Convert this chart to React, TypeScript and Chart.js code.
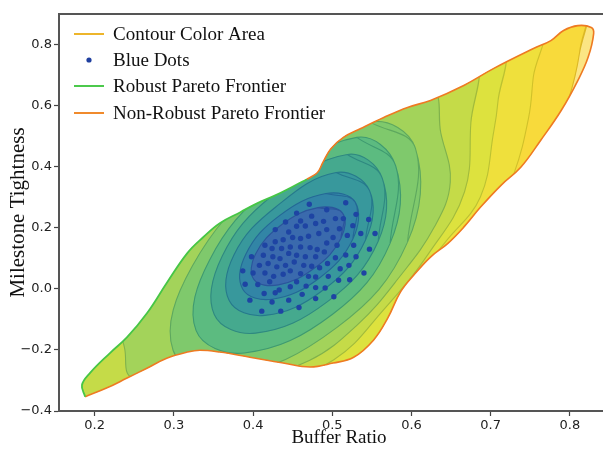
import React, { useEffect, useRef } from 'react';
import { Chart, registerables } from 'chart.js';

// ---------------- data ----------------
const xTicks = [0.2, 0.3, 0.4, 0.5, 0.6, 0.7, 0.8];
const yTicks = [-0.4, -0.2, 0.0, 0.2, 0.4, 0.6, 0.8];

// Robust Pareto frontier (green, left / upper-left edge), from the lower-left tip upward
const robustX = [0.188, 0.184, 0.194, 0.219, 0.241, 0.266, 0.291, 0.317, 0.337, 0.358, 0.384, 0.405, 0.428, 0.451, 0.468];
const robustY = [-0.353, -0.315, -0.276, -0.211, -0.158, -0.080, 0.019, 0.117, 0.169, 0.215, 0.251, 0.280, 0.306, 0.336, 0.359];

// Non-robust Pareto frontier (orange, upper edge, upper-right tip, right and bottom edge)
const nonRobustX = [0.468, 0.481, 0.488, 0.498, 0.514, 0.536, 0.565, 0.595, 0.624, 0.666, 0.704, 0.754, 0.776, 0.792, 0.810, 0.827, 0.830,
  0.823, 0.810, 0.789, 0.763, 0.738, 0.713, 0.687, 0.666, 0.646, 0.624, 0.603, 0.586, 0.570, 0.552, 0.527, 0.501, 0.472, 0.438, 0.396,
  0.358, 0.333, 0.317, 0.291, 0.266, 0.241, 0.215, 0.188];
const nonRobustY = [0.359, 0.380, 0.413, 0.458, 0.496, 0.525, 0.561, 0.594, 0.617, 0.666, 0.722, 0.787, 0.813, 0.846, 0.862, 0.856, 0.836,
  0.758, 0.682, 0.584, 0.486, 0.398, 0.339, 0.267, 0.202, 0.149, 0.104, 0.045, -0.011, -0.096, -0.168, -0.224, -0.243, -0.256, -0.243, -0.224,
  -0.207, -0.201, -0.207, -0.227, -0.260, -0.292, -0.325, -0.353];

// Blue dots
const dotX = [0.517, 0.471, 0.493, 0.455, 0.530, 0.474, 0.504, 0.441, 0.489, 0.514, 0.546, 0.460, 0.428, 0.445, 0.455, 0.466, 0.479, 0.493,
  0.509, 0.526, 0.536, 0.554, 0.415, 0.428, 0.438, 0.450, 0.460, 0.470, 0.483, 0.501, 0.519, 0.436, 0.424, 0.447, 0.460, 0.472, 0.481,
  0.493, 0.506, 0.527, 0.547, 0.398, 0.413, 0.425, 0.434, 0.445, 0.455, 0.466, 0.479, 0.490, 0.504, 0.517, 0.530, 0.408, 0.419, 0.430,
  0.441, 0.452, 0.464, 0.474, 0.484, 0.494, 0.510, 0.521, 0.387, 0.400, 0.415, 0.426, 0.438, 0.447, 0.460, 0.470, 0.479, 0.495, 0.508,
  0.522, 0.540, 0.390, 0.406, 0.421, 0.433, 0.447, 0.455, 0.467, 0.479, 0.491, 0.414, 0.428, 0.445, 0.462, 0.479, 0.502, 0.396, 0.424,
  0.411, 0.435, 0.458];
const dotY = [0.282, 0.277, 0.259, 0.248, 0.244, 0.238, 0.230, 0.219, 0.221, 0.230, 0.227, 0.222, 0.194, 0.186, 0.205, 0.206, 0.214, 0.194,
  0.197, 0.207, 0.181, 0.181, 0.143, 0.154, 0.161, 0.168, 0.165, 0.172, 0.181, 0.168, 0.175, 0.132, 0.132, 0.137, 0.137, 0.135, 0.129,
  0.150, 0.143, 0.143, 0.130, 0.105, 0.110, 0.105, 0.099, 0.116, 0.110, 0.105, 0.105, 0.121, 0.102, 0.111, 0.105, 0.077, 0.083, 0.072,
  0.077, 0.088, 0.077, 0.074, 0.069, 0.083, 0.066, 0.077, 0.059, 0.052, 0.052, 0.041, 0.048, 0.059, 0.050, 0.041, 0.039, 0.041, 0.028,
  0.030, 0.052, 0.015, 0.014, 0.023, -0.004, 0.007, 0.023, 0.009, 0.004, 0.003, -0.015, -0.013, -0.037, -0.018, -0.032, -0.026, -0.037, -0.043,
  -0.073, -0.073, -0.061];

// Contour levels (closed outlines, outermost level 1 to innermost level 11)
const level1X = [0.817, 0.812, 0.798, 0.772, 0.733, 0.632, 0.478, 0.222, 0.032, -0.003, 0.128, 0.302, 0.472, 0.661];
const level1Y = [0.943, 0.770, 0.618, 0.446, 0.226, -0.135, -0.476, -0.687, -0.688, -0.348, 0.072, 0.453, 0.742, 0.906];
const level2X = [0.763, 0.754, 0.748, 0.729, 0.701, 0.613, 0.479, 0.247, 0.093, 0.073, 0.163, 0.318, 0.467, 0.629];
const level2Y = [0.858, 0.697, 0.562, 0.375, 0.226, -0.069, -0.371, -0.555, -0.569, -0.282, 0.059, 0.400, 0.650, 0.801];
const level3X = [0.713, 0.709, 0.704, 0.687, 0.643, 0.594, 0.552, 0.440, 0.266, 0.134, 0.118, 0.189, 0.319, 0.454, 0.598];
const level3Y = [0.782, 0.609, 0.517, 0.301, 0.154, -0.004, -0.187, -0.345, -0.457, -0.491, -0.275, 0.027, 0.341, 0.584, 0.742];
const level4X = [0.679, 0.675, 0.667, 0.622, 0.565, 0.502, 0.404, 0.275, 0.160, 0.151, 0.220, 0.330, 0.455, 0.576];
const level4Y = [0.736, 0.544, 0.318, 0.117, -0.068, -0.232, -0.332, -0.379, -0.419, -0.252, 0.027, 0.302, 0.525, 0.657];
const level5X = [0.625, 0.637, 0.649, 0.629, 0.583, 0.532, 0.471, 0.405, 0.325, 0.247, 0.238, 0.233, 0.276, 0.350, 0.435, 0.525];
const level5Y = [0.651, 0.511, 0.350, 0.203, 0.033, -0.117, -0.235, -0.281, -0.303, -0.291, -0.197, -0.100, 0.107, 0.291, 0.433, 0.559];
const level6X = [0.605, 0.595, 0.506, 0.370, 0.299, 0.323, 0.420, 0.548];
const level6Y = [0.460, 0.153, -0.126, -0.284, -0.201, 0.073, 0.363, 0.546];
const level7X = [0.580, 0.573, 0.500, 0.389, 0.328, 0.345, 0.422, 0.531];
const level7Y = [0.403, 0.149, -0.084, -0.210, -0.136, 0.094, 0.334, 0.496];
const level8X = [0.563, 0.558, 0.494, 0.403, 0.351, 0.361, 0.424, 0.519];
const level8Y = [0.363, 0.156, -0.042, -0.145, -0.084, 0.107, 0.305, 0.440];
const level9X = [0.547, 0.542, 0.489, 0.415, 0.370, 0.376, 0.429, 0.505];
const level9Y = [0.322, 0.160, -0.003, -0.087, -0.039, 0.112, 0.269, 0.381];
const level10X = [0.529, 0.526, 0.483, 0.424, 0.387, 0.391, 0.433, 0.492];
const level10Y = [0.284, 0.163, 0.034, -0.034, -0.001, 0.114, 0.239, 0.312];
const level11X = [0.513, 0.511, 0.478, 0.432, 0.401, 0.403, 0.436, 0.482];
const level11Y = [0.248, 0.166, 0.069, 0.013, 0.031, 0.113, 0.210, 0.266];

const levelsX = [level1X, level2X, level3X, level4X, level5X, level6X, level7X, level8X, level9X, level10X, level11X];
const levelsY = [level1Y, level2Y, level3Y, level4Y, level5Y, level6Y, level7Y, level8Y, level9Y, level10Y, level11Y];

const outerFill = '#fbe584';
const levelFill = ['#f8da3b', '#efe03c', '#dde23e', '#c5db48', '#a3d35a', '#7fc96c', '#5cbb80', '#45a98e', '#38989c', '#3285a6', '#3a6aad'];
const levelLine = ['#dcb826', '#d0c12a', '#bcc232', '#a2bb3c', '#80b24c', '#5ea85e', '#3f9a70', '#2f8980', '#26798c', '#246896', '#2b559b'];

const legendLabels = ['Contour Color Area', 'Blue Dots', 'Robust Pareto Frontier', 'Non-Robust Pareto Frontier'];
const legendColors = ['#edb52b', '#1f3f9f', '#4cc94c', '#f08a2c'];

// ---------------- helpers ----------------
const toPts = (xs: number[], ys: number[]) => xs.map((x, i) => ({ x, y: ys[i] }));
const loopPts = (xs: number[], ys: number[]) => {
  const p = toPts(xs, ys);
  return [p[p.length - 1], ...p, p[0], p[1]];
};
const fmtTick = (v: number) => Number(v).toFixed(1).replace('-', '\u2212');

// clip contour datasets to the outer (boundary) shape; must run before the filler plugin
const boundaryClip = {
  id: 'boundaryClip',
  beforeDatasetDraw(chart: any, args: any) {
    const ds = chart.data.datasets[args.index];
    if (!ds || !ds.clipToBoundary) return;
    const bi = chart.data.datasets.findIndex((d: any) => d.isBoundary);
    const el = chart.getDatasetMeta(bi).dataset;
    const ctx = chart.ctx;
    ctx.save();
    ctx.beginPath();
    el.path(ctx);
    ctx.closePath();
    ctx.clip();
  },
  afterDatasetDraw(chart: any, args: any) {
    const ds = chart.data.datasets[args.index];
    if (ds && ds.clipToBoundary) chart.ctx.restore();
  },
};
Chart.register(boundaryClip);
Chart.register(...registerables);

const frameAndLegend = {
  id: 'frameAndLegend',
  afterDraw(chart: any) {
    const { ctx, chartArea } = chart;
    ctx.save();
    // top spine
    ctx.strokeStyle = '#555';
    ctx.lineWidth = 2;
    ctx.beginPath();
    ctx.moveTo(chartArea.left - 1, chartArea.top);
    ctx.lineTo(chartArea.right, chartArea.top);
    ctx.stroke();
    // legend
    const lx0 = chartArea.left + 15;
    const lx1 = chartArea.left + 45;
    const tx = chartArea.left + 54;
    const rows = [20, 46, 72, 99];
    ctx.font = '19px "Liberation Serif", "Times New Roman", serif';
    ctx.textBaseline = 'middle';
    ctx.textAlign = 'left';
    legendLabels.forEach((label, i) => {
      const y = chartArea.top + rows[i];
      if (i === 1) {
        ctx.fillStyle = legendColors[i];
        ctx.beginPath();
        ctx.arc((lx0 + lx1) / 2, y, 2.6, 0, Math.PI * 2);
        ctx.fill();
      } else {
        ctx.strokeStyle = legendColors[i];
        ctx.lineWidth = 2;
        ctx.beginPath();
        ctx.moveTo(lx0, y);
        ctx.lineTo(lx1, y);
        ctx.stroke();
      }
      ctx.fillStyle = '#111';
      ctx.fillText(label, tx, y + 1);
    });
    ctx.restore();
  },
};

export default function App() {
  const ref = useRef<HTMLCanvasElement>(null);
  useEffect(() => {
    document.body.style.margin = '0';
    const canvas = ref.current;
    if (!canvas) return;

    const boundaryPts = [...toPts(robustX, robustY), ...toPts(nonRobustX, nonRobustY).slice(1)];

    const contourSets = levelsX
      .map((xs, i) => ({
        type: 'line' as const,
        label: 'level' + (i + 1),
        data: loopPts(xs, levelsY[i]),
        clipToBoundary: true,
        fill: 'shape',
        backgroundColor: levelFill[i],
        borderColor: levelLine[i],
        borderWidth: 1.1,
        pointRadius: 0,
        pointHitRadius: 0,
        tension: 0.4,
        capBezierPoints: false,
      }))
      .reverse();

    const chart = new Chart(canvas, {
      type: 'scatter',
      data: {
        datasets: [
          {
            type: 'scatter',
            label: 'Blue Dots',
            data: toPts(dotX, dotY),
            backgroundColor: '#1e44a3',
            borderWidth: 0,
            pointRadius: 2.7,
          },
          {
            type: 'line',
            label: 'Robust Pareto Frontier',
            data: toPts(robustX, robustY),
            borderColor: '#46c646',
            borderWidth: 1.8,
            pointRadius: 0,
            fill: false,
            tension: 0.4,
          },
          {
            type: 'line',
            label: 'Non-Robust Pareto Frontier',
            data: toPts(nonRobustX, nonRobustY),
            borderColor: '#ee7a22',
            borderWidth: 1.6,
            pointRadius: 0,
            fill: false,
            tension: 0.4,
          },
          ...contourSets,
          {
            type: 'line',
            label: 'Contour Color Area',
            data: boundaryPts,
            isBoundary: true,
            fill: 'shape',
            backgroundColor: outerFill,
            borderWidth: 0,
            pointRadius: 0,
            tension: 0.4,
          },
        ] as any,
      },
      options: {
        animation: false,
        responsive: false,
        devicePixelRatio: 1,
        layout: { padding: { top: 14, right: 21, left: 0, bottom: 0 } },
        plugins: { legend: { display: false }, tooltip: { enabled: false } },
        scales: {
          x: {
            type: 'linear',
            min: 0.155,
            max: 0.862,
            afterFit: (s: any) => { s.height = 39; },
            afterBuildTicks: (s: any) => { s.ticks = xTicks.map((v) => ({ value: v })); },
            ticks: {
              callback: (v: any) => fmtTick(v),
              font: { family: 'DejaVu Sans', size: 13 },
              color: '#222',
              padding: 2,
              maxRotation: 0,
              minRotation: 0,
              autoSkip: false,
            },
            grid: { drawOnChartArea: false, drawTicks: true, tickLength: 5, tickColor: '#444', tickWidth: 1.2 },
            border: { display: true, color: '#555', width: 2 },
            title: {
              display: true,
              text: 'Buffer Ratio',
              font: { family: 'Liberation Serif', size: 19 },
              color: '#111',
              padding: { top: 0, bottom: 1 },
            },
          },
          y: {
            type: 'linear',
            min: -0.4,
            max: 0.9,
            afterFit: (s: any) => { s.width = 59; },
            afterBuildTicks: (s: any) => { s.ticks = yTicks.map((v) => ({ value: v })); },
            ticks: {
              callback: (v: any) => fmtTick(v),
              font: { family: 'DejaVu Sans', size: 13 },
              color: '#222',
              padding: 2,
              autoSkip: false,
            },
            grid: { drawOnChartArea: false, drawTicks: true, tickLength: 5, tickColor: '#444', tickWidth: 1.2 },
            border: { display: true, color: '#555', width: 2 },
            title: {
              display: true,
              text: 'Milestone Tightness',
              font: { family: 'Liberation Serif', size: 21 },
              color: '#111',
              padding: { top: 6, bottom: 0 },
            },
          },
        },
      } as any,
      plugins: [frameAndLegend],
    });
    return () => chart.destroy();
  }, []);

  return (
    <div style={{ position: 'fixed', left: 0, top: 0, width: 603, height: 450, overflow: 'hidden', background: '#fff' }}>
      <canvas ref={ref} width={640} height={450} style={{ width: 640, height: 450, display: 'block' }} />
    </div>
  );
}
